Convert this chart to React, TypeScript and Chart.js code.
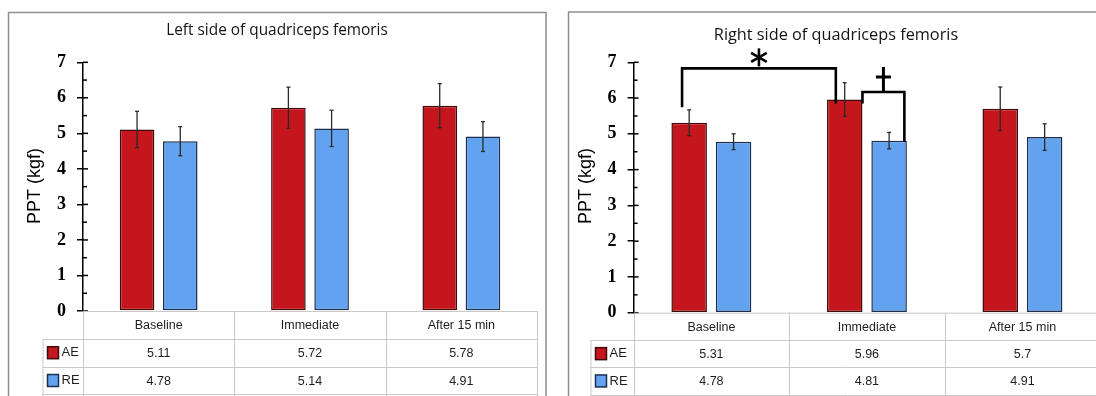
import React, { useEffect, useRef } from 'react';
import { Chart, registerables } from 'chart.js';

Chart.register(...registerables);

// ---------- data ----------
const categories = ['Baseline', 'Immediate', 'After 15 min'];
const seriesNames = ['AE', 'RE'];

const leftAE = [5.11, 5.72, 5.78];
const leftRE = [4.78, 5.14, 4.91];
const leftAEErr = [0.51, 0.58, 0.62];
const leftREErr = [0.41, 0.51, 0.42];

const rightAE = [5.31, 5.96, 5.7];
const rightRE = [4.78, 4.81, 4.91];
const rightAEErr = [0.36, 0.47, 0.61];
const rightREErr = [0.22, 0.23, 0.37];

const yMin = 0;
const yMax = 7;

const leftTitle = 'Left side of quadriceps femoris';
const rightTitle = 'Right side of quadriceps femoris';
const yAxisLabel = 'PPT (kgf)';

// significance brackets (values in data units)
const rightBrackets = [
  { symbol: '*', fromCat: 0, fromDs: 0, toCat: 1, toDs: 0, top: 6.83, fromEnd: 5.74, toEnd: 5.85 },
  { symbol: '†', fromCat: 1, fromDs: 0, toCat: 1, toDs: 1, top: 6.17, fromEnd: 5.85, toEnd: 4.78 },
];

// ---------- styles ----------
const AE_FILL = '#C4161C';
const AE_BORDER = '#3f0b0b';
const RE_FILL = '#62A2EE';
const RE_BORDER = '#1d2f4f';
const fills = [AE_FILL, RE_FILL];
const borders = [AE_BORDER, RE_BORDER];

type PanelCfg = {
  left: number;
  width: number;
  padding: { left: number; right: number; top: number; bottom: number };
  border: { x: number; y: number; w: number; h: number };
  title: string;
  titleSize: number;
  titleX: number;
  titleY: number;
  yLabelX: number;
  yLabelY: number;
  labelColLeft: number;
  rowH: number;
  openRight: boolean;
  ae: number[];
  re: number[];
  aeErr: number[];
  reErr: number[];
  brackets: typeof rightBrackets;
  bracketOffsets: number[][];
};

function line(ctx: CanvasRenderingContext2D, x1: number, y1: number, x2: number, y2: number) {
  ctx.beginPath();
  ctx.moveTo(x1, y1);
  ctx.lineTo(x2, y2);
  ctx.stroke();
}

function makePlugin(cfg: PanelCfg) {
  return {
    id: 'decor',
    afterDatasetsDraw(chart: any) {
      const ctx: CanvasRenderingContext2D = chart.ctx;
      const ys = chart.scales.y;
      const errs = [cfg.aeErr, cfg.reErr];
      const vals = [cfg.ae, cfg.re];
      ctx.save();
      ctx.strokeStyle = '#2a2a2a';
      ctx.lineWidth = 1.3;
      for (let d = 0; d < 2; d++) {
        const meta = chart.getDatasetMeta(d);
        meta.data.forEach((el: any, i: number) => {
          const x = el.x;
          const yt = ys.getPixelForValue(vals[d][i] + errs[d][i]);
          const yb = ys.getPixelForValue(vals[d][i] - errs[d][i]);
          line(ctx, x, yt, x, yb);
          line(ctx, x - 2, yt, x + 2, yt);
          line(ctx, x - 2, yb, x + 2, yb);
        });
      }
      ctx.restore();
    },
    afterDraw(chart: any) {
      const ctx: CanvasRenderingContext2D = chart.ctx;
      const ca = chart.chartArea;
      const xs = chart.scales.x;
      const ys = chart.scales.y;
      ctx.save();

      // panel border
      ctx.strokeStyle = '#8e8e8e';
      ctx.lineWidth = 1.5;
      ctx.strokeRect(cfg.border.x, cfg.border.y, cfg.border.w, cfg.border.h);

      // title
      ctx.fillStyle = '#141414';
      ctx.font = `${cfg.titleSize}px "Open Sans"`;
      ctx.textAlign = 'center';
      ctx.textBaseline = 'middle';
      ctx.fillText(cfg.title, cfg.titleX, cfg.titleY);

      // y axis label
      ctx.save();
      ctx.translate(cfg.yLabelX, cfg.yLabelY);
      ctx.rotate(-Math.PI / 2);
      ctx.font = '18px "Liberation Sans"';
      ctx.fillStyle = '#000';
      ctx.fillText(yAxisLabel, 0, 0);
      ctx.restore();

      // right-side tick marks
      ctx.strokeStyle = '#000';
      ctx.lineWidth = 1.5;
      ys.ticks.forEach((t: any) => {
        const y = ys.getPixelForValue(t.value);
        const len = Number.isInteger(t.value) ? 5 : 4;
        line(ctx, ca.left, y, ca.left + len, y);
      });

      // table
      const colW = (ca.right - ca.left) / categories.length;
      const y0 = ca.bottom;
      const rh = cfg.rowH;
      const tableRight = cfg.openRight ? chart.width : ca.right;
      ctx.strokeStyle = '#c9c9c9';
      ctx.lineWidth = 1;
      line(ctx, ca.left + 1, y0 + 0.5, tableRight, y0 + 0.5);
      for (let r = 1; r <= 3; r++) {
        const yy = Math.round(y0 + r * rh) + 0.5;
        line(ctx, cfg.labelColLeft, yy, tableRight, yy);
      }
      for (let c = 0; c <= categories.length; c++) {
        const xx = Math.round(ca.left + c * colW) + 0.5;
        line(ctx, xx, y0, xx, y0 + 3 * rh + 4);
      }
      line(ctx, cfg.labelColLeft + 0.5, y0 + rh, cfg.labelColLeft + 0.5, y0 + 3 * rh + 4);

      ctx.fillStyle = '#1e1e1e';
      ctx.font = '12.5px "Liberation Sans"';
      ctx.textAlign = 'center';
      ctx.textBaseline = 'middle';
      categories.forEach((c, i) => {
        const cx = xs.getPixelForValue(i);
        ctx.fillText(c, cx, y0 + rh / 2 + 1);
        ctx.fillText(String(cfg.ae[i]), cx, y0 + rh * 1.5 + 1);
        ctx.fillText(String(cfg.re[i]), cx, y0 + rh * 2.5 + 1);
      });

      // row labels with legend keys
      seriesNames.forEach((name, r) => {
        const cy = y0 + rh * (1.5 + r);
        ctx.fillStyle = fills[r];
        ctx.strokeStyle = borders[r];
        ctx.lineWidth = 1.5;
        ctx.fillRect(cfg.labelColLeft + 5, cy - 6, 11, 12);
        ctx.strokeRect(cfg.labelColLeft + 5, cy - 6, 11, 12);
        ctx.fillStyle = '#1e1e1e';
        ctx.font = '13px "Liberation Sans"';
        ctx.textAlign = 'left';
        ctx.fillText(name, cfg.labelColLeft + 19, cy);
      });

      // significance brackets
      ctx.strokeStyle = '#000';
      ctx.fillStyle = '#000';
      ctx.lineWidth = 2.6;
      ctx.lineJoin = 'miter';
      cfg.brackets.forEach((b, k) => {
        const fromEl = chart.getDatasetMeta(b.fromDs).data[b.fromCat];
        const toEl = chart.getDatasetMeta(b.toDs).data[b.toCat];
        const off = cfg.bracketOffsets[k];
        const x1 = fromEl.x + off[0] * fromEl.width;
        const x2 = toEl.x + off[1] * toEl.width;
        const yt = ys.getPixelForValue(b.top);
        const y1 = ys.getPixelForValue(b.fromEnd);
        const y2 = ys.getPixelForValue(b.toEnd);
        ctx.beginPath();
        ctx.moveTo(x1, y1);
        ctx.lineTo(x1, yt);
        ctx.lineTo(x2, yt);
        ctx.lineTo(x2, y2);
        ctx.stroke();
        const mx = (x1 + x2) / 2;
        if (b.symbol === '*') {
          const cy = yt - 11;
          const r = 9;
          ctx.lineWidth = 2.6;
          for (let a = 0; a < 3; a++) {
            const ang = Math.PI / 2 + (a * Math.PI) / 3;
            line(ctx, mx - r * Math.cos(ang), cy - r * Math.sin(ang), mx + r * Math.cos(ang), cy + r * Math.sin(ang));
          }
        } else {
          ctx.lineWidth = 3;
          line(ctx, mx, yt, mx, yt - 25);
          line(ctx, mx - 7.5, yt - 15, mx + 7.5, yt - 15);
        }
        ctx.lineWidth = 2.6;
      });

      ctx.restore();
    },
  };
}

const leftCfg: PanelCfg = {
  left: 0,
  width: 548,
  padding: { left: 43, right: 11, top: 62.3, bottom: 85 },
  border: { x: 8.5, y: 12.5, w: 537.5, h: 400 },
  title: leftTitle,
  titleSize: 15.4,
  titleX: 277,
  titleY: 31,
  yLabelX: 35,
  yLabelY: 186,
  labelColLeft: 42.5,
  rowH: 27.8,
  openRight: false,
  ae: leftAE,
  re: leftRE,
  aeErr: leftAEErr,
  reErr: leftREErr,
  brackets: [],
  bracketOffsets: [],
};

const rightCfg: PanelCfg = {
  left: 548,
  width: 556,
  padding: { left: 45.6, right: 3.8, top: 62.3, bottom: 83.3 },
  border: { x: 20.5, y: 12, w: 600, h: 400 },
  title: rightTitle,
  titleSize: 16.3,
  titleX: 288,
  titleY: 35,
  yLabelX: 38,
  yLabelY: 186,
  labelColLeft: 42.5,
  rowH: 27.3,
  openRight: true,
  ae: rightAE,
  re: rightRE,
  aeErr: rightAEErr,
  reErr: rightREErr,
  brackets: rightBrackets,
  bracketOffsets: [
    [-0.2, -0.25],
    [0.5, 0.43],
  ],
};

function Panel({ cfg }: { cfg: PanelCfg }) {
  const ref = useRef<HTMLCanvasElement | null>(null);
  useEffect(() => {
    if (!ref.current) return;
    const chart = new Chart(ref.current, {
      type: 'bar',
      data: {
        labels: categories,
        datasets: [
          {
            label: seriesNames[0],
            data: cfg.ae,
            backgroundColor: AE_FILL,
            borderColor: AE_BORDER,
            borderWidth: 1.5,
            borderSkipped: false,
            categoryPercentage: 0.571,
            barPercentage: 0.8,
          },
          {
            label: seriesNames[1],
            data: cfg.re,
            backgroundColor: RE_FILL,
            borderColor: RE_BORDER,
            borderWidth: 1.5,
            borderSkipped: false,
            categoryPercentage: 0.571,
            barPercentage: 0.8,
          },
        ],
      },
      options: {
        responsive: false,
        animation: false,
        events: [],
        layout: { padding: cfg.padding },
        plugins: {
          legend: { display: false },
          title: { display: false },
          tooltip: { enabled: false },
        },
        scales: {
          x: { display: false, offset: true },
          y: {
            min: yMin,
            max: yMax,
            afterFit: (s: any) => {
              s.width = 40;
            },
            ticks: {
              stepSize: 0.5,
              autoSkip: false,
              padding: 11,
              color: '#000',
              font: { family: '"Liberation Serif"', size: 18, weight: 'bold' },
              callback: (v: any) => (Number.isInteger(v) ? String(v) : ''),
            },
            grid: {
              drawOnChartArea: false,
              drawTicks: true,
              tickLength: 6,
              lineWidth: 1.5,
              color: (c: any) => (c.tick && Number.isInteger(c.tick.value) ? '#000' : 'rgba(0,0,0,0)'),
            },
            border: { display: true, color: '#000', width: 1.5 },
          },
        },
      },
      plugins: [makePlugin(cfg)],
    } as any);
    return () => chart.destroy();
  }, [cfg]);
  return (
    <canvas
      ref={ref}
      width={cfg.width}
      height={396}
      style={{ position: 'absolute', left: cfg.left, top: 0, width: cfg.width, height: 396 }}
    />
  );
}

export default function App() {
  return (
    <div
      style={{
        position: 'fixed',
        left: 0,
        top: 0,
        width: 1096,
        height: 396,
        overflow: 'hidden',
        background: '#ffffff',
      }}
    >
      <Panel cfg={leftCfg} />
      <Panel cfg={rightCfg} />
    </div>
  );
}
